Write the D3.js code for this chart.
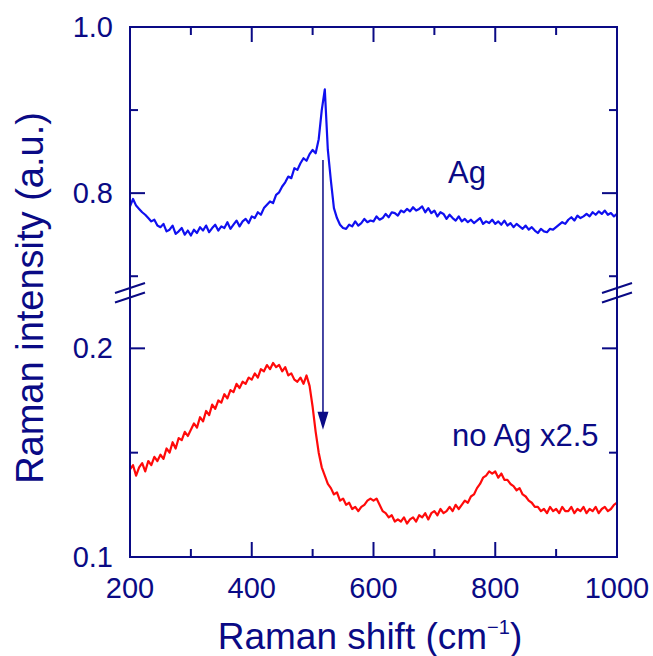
<!DOCTYPE html>
<html>
    <head>
        <script src="https://d3js.org/d3.v7.min.js"></script>
        <style>
            body {
                margin: 0;
                background: #ffffff;
            }
            * {
                font-family: 'Liberation Sans', Arial, sans-serif;
            }
            .frame {
                stroke: #0a0a85;
                stroke-width: 2px;
                fill: none;
            }
            .tick {
                stroke: #0a0a85;
                stroke-width: 2px;
            }
            .label {
                fill: #0a0a85;
                font-size: 29px;
            }
        </style>
    </head>
    <body>
        <script>
            // Raman shift sampling (cm-1) and the two spectra
            const shift = d3.range(200, 1001, 5);
            const withAg = [
                0.784, 0.793, 0.785, 0.781, 0.777, 0.774, 0.770, 0.766, 0.768, 0.761,
                0.759, 0.763, 0.754, 0.756, 0.761, 0.751, 0.754, 0.758, 0.750, 0.755,
                0.749, 0.756, 0.752, 0.759, 0.755, 0.761, 0.753, 0.758, 0.762, 0.755,
                0.760, 0.758, 0.765, 0.757, 0.762, 0.767, 0.760, 0.766, 0.769, 0.764,
                0.772, 0.770, 0.777, 0.774, 0.782, 0.786, 0.790, 0.788, 0.798, 0.801,
                0.808, 0.813, 0.820, 0.818, 0.830, 0.828, 0.836, 0.842, 0.839, 0.847,
                0.852, 0.848, 0.865, 0.900, 0.925, 0.852, 0.815, 0.782, 0.770, 0.762,
                0.758, 0.757, 0.762, 0.760, 0.766, 0.761, 0.764, 0.769, 0.765, 0.767,
                0.766, 0.772, 0.768, 0.770, 0.775, 0.771, 0.777, 0.776, 0.773, 0.779,
                0.777, 0.781, 0.778, 0.783, 0.779, 0.781, 0.784, 0.777, 0.782, 0.776,
                0.779, 0.772, 0.777, 0.775, 0.769, 0.774, 0.770, 0.767, 0.772, 0.766,
                0.769, 0.765, 0.768, 0.764, 0.767, 0.770, 0.763, 0.766, 0.764, 0.768,
                0.763, 0.766, 0.762, 0.767, 0.761, 0.764, 0.759, 0.763, 0.760, 0.757,
                0.761, 0.756, 0.759, 0.755, 0.752, 0.757, 0.754, 0.753, 0.757, 0.756,
                0.759, 0.762, 0.765, 0.763, 0.768, 0.771, 0.767, 0.773, 0.770, 0.772,
                0.775, 0.772, 0.777, 0.774, 0.778, 0.775, 0.779, 0.774, 0.776, 0.772,
                0.775
            ];
            const noAg = [
                0.142, 0.144, 0.139, 0.143, 0.145, 0.141, 0.146, 0.144, 0.148, 0.146,
                0.149, 0.147, 0.152, 0.150, 0.155, 0.152, 0.157, 0.156, 0.160, 0.158,
                0.161, 0.164, 0.162, 0.167, 0.165, 0.170, 0.168, 0.173, 0.171, 0.175,
                0.174, 0.178, 0.176, 0.180, 0.179, 0.183, 0.181, 0.184, 0.183, 0.186,
                0.185, 0.188, 0.186, 0.190, 0.189, 0.192, 0.190, 0.193, 0.191, 0.192,
                0.189, 0.191, 0.187, 0.188, 0.185, 0.184, 0.186, 0.183, 0.187, 0.182,
                0.172, 0.160, 0.150, 0.143, 0.139, 0.135, 0.133, 0.130, 0.131, 0.127,
                0.128, 0.125, 0.126, 0.123, 0.124, 0.122, 0.124, 0.125, 0.127, 0.128,
                0.127, 0.128, 0.125, 0.122, 0.121, 0.119, 0.120, 0.117, 0.118, 0.117,
                0.119, 0.116, 0.118, 0.119, 0.117, 0.120, 0.119, 0.121, 0.118, 0.121,
                0.122, 0.120, 0.123, 0.121, 0.122, 0.124, 0.122, 0.125, 0.123, 0.125,
                0.127, 0.126, 0.129, 0.130, 0.133, 0.135, 0.138, 0.139, 0.141, 0.140,
                0.141, 0.138, 0.140, 0.137, 0.137, 0.135, 0.134, 0.132, 0.133, 0.130,
                0.129, 0.127, 0.126, 0.124, 0.124, 0.122, 0.123, 0.121, 0.124, 0.122,
                0.123, 0.121, 0.124, 0.122, 0.122, 0.124, 0.121, 0.123, 0.122, 0.124,
                0.121, 0.123, 0.122, 0.124, 0.121, 0.123, 0.124, 0.122, 0.123, 0.125,
                0.126
            ];

            const xMajor = [200, 400, 600, 800, 1000];
            const xMinor = [300, 500, 700, 900];
            const yMajor = [0.1, 0.2, 0.8, 1.0];
            const yMinor = [0.15, 0.7, 0.9];
            // the broken y axis: lower part 0.1..0.227, upper part 0.681..1.0
            const yBreak = [0.227, 0.681];

            const width = 653;
            const height = 656;
            const m = { left: 130, right: 617, top: 27, bottom: 557, gap: 292 };

            const svg = d3.select('body').append('svg').attr('width', width).attr('height', height);

            const x = d3.scaleLinear().domain([200, 1000]).range([m.left, m.right]);
            const y = d3.scaleLinear().domain([0.1, yBreak[0], yBreak[1], 1.0]).range([m.bottom, m.gap, m.gap, m.top]);

            svg.append('clipPath').attr('id', 'clip').append('rect')
                .attr('x', m.left).attr('y', m.top).attr('width', m.right - m.left).attr('height', m.bottom - m.top);

            const line = d3.line().x((d, i) => x(shift[i])).y((d) => y(d));

            svg.append('path').datum(noAg)
                .attr('clip-path', 'url(#clip)')
                .attr('d', line)
                .attr('fill', 'none').attr('stroke', '#ff0a0a').attr('stroke-width', 2.2).attr('stroke-linejoin', 'round');
            svg.append('path').datum(withAg)
                .attr('clip-path', 'url(#clip)')
                .attr('d', line)
                .attr('fill', 'none').attr('stroke', '#1010f0').attr('stroke-width', 2.2).attr('stroke-linejoin', 'round');

            // frame
            svg.append('rect').attr('class', 'frame')
                .attr('x', m.left).attr('y', m.top).attr('width', m.right - m.left).attr('height', m.bottom - m.top);

            // x ticks bottom and top, inward
            const xt = svg.append('g');
            xMajor.concat(xMinor).forEach((v) => {
                const len = xMajor.includes(v) ? 15 : 8;
                xt.append('line').attr('class', 'tick').attr('x1', x(v)).attr('x2', x(v)).attr('y1', m.bottom).attr('y2', m.bottom - len);
                xt.append('line').attr('class', 'tick').attr('x1', x(v)).attr('x2', x(v)).attr('y1', m.top).attr('y2', m.top + len);
            });
            xt.selectAll('text').data(xMajor).join('text')
                .attr('class', 'label')
                .attr('x', (d) => x(d)).attr('y', m.bottom + 41)
                .attr('text-anchor', 'middle')
                .text((d) => d);

            // y ticks left and right, inward
            const yt = svg.append('g');
            yMajor.concat(yMinor).forEach((v) => {
                const len = yMajor.includes(v) ? 15 : 8;
                yt.append('line').attr('class', 'tick').attr('x1', m.left).attr('x2', m.left + len).attr('y1', y(v)).attr('y2', y(v));
                yt.append('line').attr('class', 'tick').attr('x1', m.right).attr('x2', m.right - len).attr('y1', y(v)).attr('y2', y(v));
            });
            yt.selectAll('text').data(yMajor).join('text')
                .attr('class', 'label')
                .attr('x', m.left - 17).attr('y', (d) => y(d) + 10)
                .attr('text-anchor', 'end')
                .text((d) => d.toFixed(1));

            // axis break marks
            [m.left, m.right].forEach((ax) => {
                [0, 9.5].forEach((off) => {
                    svg.append('line').attr('class', 'tick')
                        .attr('x1', ax - 15).attr('y1', m.gap + 1 + off)
                        .attr('x2', ax + 15).attr('y2', m.gap - 9 + off);
                });
            });

            // arrow from the Si peak of the upper spectrum down to the lower one
            const arrowX = 517;
            const ax0 = x(arrowX), ay0 = y(0.84), ay1 = y(0.161);
            svg.append('line').attr('x1', ax0).attr('x2', ax0).attr('y1', ay0).attr('y2', ay1 - 16)
                .attr('stroke', '#0a0a85').attr('stroke-width', 1.5);
            svg.append('path')
                .attr('d', `M${ax0 - 5.5},${ay1 - 18} L${ax0 + 5.5},${ay1 - 18} L${ax0},${ay1} Z`)
                .attr('fill', '#0a0a85');

            // curve labels
            svg.append('text').attr('x', 448).attr('y', 183).attr('fill', '#0a0a85').attr('font-size', 31).text('Ag');
            svg.append('text').attr('x', 452).attr('y', 446).attr('fill', '#0a0a85').attr('font-size', 31).text('no Ag x2.5');

            // axis titles
            const xTitle = svg.append('text').attr('x', 370).attr('y', 649).attr('text-anchor', 'middle')
                .attr('fill', '#0a0a85').attr('font-size', 37);
            xTitle.append('tspan').text('Raman shift (cm');
            xTitle.append('tspan').attr('dy', -15).attr('font-size', 20).attr('font-family', 'Liberation Serif, serif').text('\u22121');
            xTitle.append('tspan').attr('dy', 15).text(')');

            svg.append('text')
                .attr('transform', 'translate(43,298) rotate(-90)')
                .attr('text-anchor', 'middle')
                .attr('fill', '#0a0a85').attr('font-size', 38)
                .text('Raman intensity (a.u.)');
        </script>
    </body>
</html>
